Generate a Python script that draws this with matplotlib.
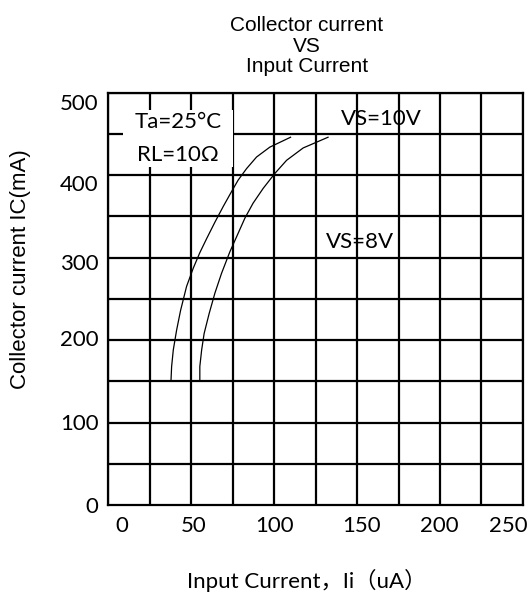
import matplotlib
matplotlib.use("Agg")
import matplotlib.pyplot as plt
from matplotlib.patches import Rectangle

# curve data: input current (uA) vs collector current (mA)
vs10_x = [37.8, 38.2, 39.2, 41.2, 43.6, 47.2, 51.2, 55.2, 59.3, 64.3, 69.3, 74.3,
          78.3, 83.4, 89.4, 97.4, 109.9]
vs10_y = [150, 168, 188, 212, 236, 265, 287, 306, 323, 343, 362, 380,
          394, 408, 422, 434, 446]
vs8_x = [55.2, 55.2, 56.3, 57.8, 60.8, 64.3, 68.3, 73.3, 77.3, 82.4, 87.3, 93.4,
         100.4, 107.5, 117.5, 132.5]
vs8_y = [150, 168, 188, 208, 232, 257, 281, 307, 325, 348, 366, 384,
         402, 418, 433, 446]

x_labels = ["0", "50", "100", "150", "200", "250"]
x_label_pos = [8.3, 51.6, 100.4, 152.4, 199.5, 241.0]
y_labels = ["500", "400", "300", "200", "100", "0"]
y_label_pos = [489, 390, 295, 202, 101, 0]

num_font = ["Lato", "Noto Sans CJK SC"]

fig = plt.figure(figsize=(5.32, 5.95), dpi=100)
ax = fig.add_axes([0.2035, 0.1513, 0.7795, 0.6929])

ax.set_xlim(0, 250)
ax.set_ylim(0, 500)

# grid every 25 uA / 50 mA
ax.set_xticks(range(0, 251, 25), minor=True)
ax.set_yticks(range(0, 501, 50), minor=True)
ax.grid(which="minor", color="black", linewidth=1.6)
ax.tick_params(which="both", length=0)
for s in ax.spines.values():
    s.set_linewidth(1.6)

ax.set_xticks(x_label_pos)
ax.set_xticklabels(x_labels, family=num_font, fontsize=16)
ax.set_yticks(y_label_pos)
ax.set_yticklabels(y_labels, family=num_font, fontsize=16)
ax.tick_params(axis="x", pad=8)
ax.tick_params(axis="y", pad=7)

ax.plot(vs10_x, vs10_y, color="black", linewidth=0.9, zorder=3)
ax.plot(vs8_x, vs8_y, color="black", linewidth=0.9, zorder=3)

# white box behind the conditions text
ax.add_patch(Rectangle((0.036, 0.82), 0.265, 0.138, transform=ax.transAxes,
                       facecolor="white", edgecolor="none", zorder=4))
ax.text(0.168, 0.928, "Ta=25°C", transform=ax.transAxes, ha="center", va="center",
        family=num_font, fontsize=16, zorder=5)
ax.text(0.168, 0.85, "RL=10Ω", transform=ax.transAxes, ha="center", va="center",
        family=num_font, fontsize=16, zorder=5)

ax.text(0.560, 0.935, "VS=10V", transform=ax.transAxes, ha="left", va="center",
        family=num_font, fontsize=16, zorder=5)
ax.text(0.526, 0.638, "VS=8V", transform=ax.transAxes, ha="left", va="center",
        family=num_font, fontsize=16, zorder=5)

fig.text(0.577, 0.922, "Collector current\nVS\nInput Current", ha="center", va="center",
         family="Liberation Sans", fontsize=15, linespacing=1.1)
fig.text(0.038, 0.548, "Collector current IC(mA)", rotation=90, ha="center", va="center",
         family="Liberation Sans", fontsize=16)
fig.text(0.577, 0.025, "Input Current，Ii（uA）", ha="center", va="center",
         family=num_font, fontsize=16)

fig.savefig("out.png", dpi=100)
